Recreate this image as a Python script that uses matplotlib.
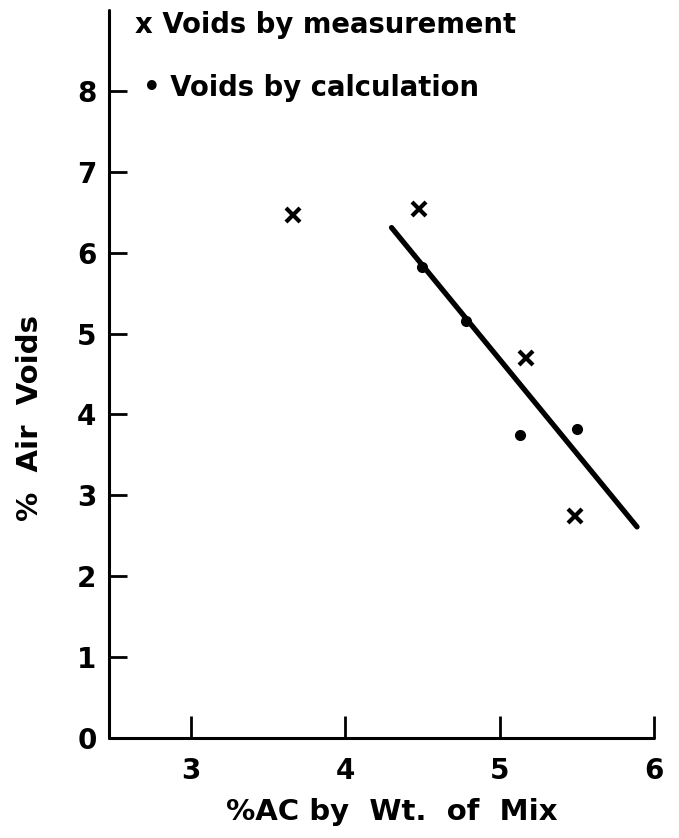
import matplotlib
matplotlib.use("Agg")
import matplotlib.pyplot as plt

# Data
meas_x = [3.66, 4.48, 5.17, 5.49]
meas_y = [6.46, 6.54, 4.70, 2.74]
calc_x = [4.50, 4.78, 5.13, 5.50]
calc_y = [5.82, 5.15, 3.75, 3.82]
fit_x = [4.30, 5.89]
fit_y = [6.31, 2.61]
x_ticks = [3, 4, 5, 6]
y_ticks = [0, 1, 2, 3, 4, 5, 6, 7, 8]

plt.rcParams['font.family'] = ['DejaVu Sans']
plt.rcParams['font.weight'] = 'bold'

fig = plt.figure(figsize=(6.79, 8.38), dpi=100)
ax = fig.add_axes([109/679, 100/838, (654-109)/679, (738-10)/838])

ax.plot(fit_x, fit_y, color='black', lw=3.8, solid_capstyle='round')
ax.plot(meas_x, meas_y, linestyle='none', marker='x', color='black',
        markersize=10.5, markeredgewidth=3)
ax.plot(calc_x, calc_y, linestyle='none', marker='o', color='black',
        markersize=7)

ax.set_xlim(2.47, 6.0)
ax.set_ylim(0, 9.0)
for s in ['top', 'right']:
    ax.spines[s].set_visible(False)
for s in ['left', 'bottom']:
    ax.spines[s].set_linewidth(2.2)
    ax.spines[s].set_capstyle('round')

ax.set_xticks(x_ticks)
ax.set_yticks(y_ticks)
ax.set_xticklabels([str(t) for t in x_ticks], fontsize=20, fontweight='bold')
ax.set_yticklabels([str(t) for t in y_ticks], fontsize=20, fontweight='bold')
ax.tick_params(axis='x', direction='in', length=16, width=2, pad=14)
ax.tick_params(axis='y', direction='in', length=13, width=2, pad=9)

fig.text(392/679, 1 - 812/838, '%AC by  Wt.  of  Mix', ha='center', va='center',
         fontsize=21, fontweight='bold')
fig.text(30/679, 1 - 418/838, '%  Air  Voids', ha='center', va='center',
         rotation=90, fontsize=21, fontweight='bold')

fig.text(135/679, 1 - 25/838, 'x Voids by measurement', ha='left', va='center',
         fontsize=19.8, fontweight='bold')
fig.text(143/679, 1 - 88/838, '\u2022 Voids by calculation', ha='left', va='center',
         fontsize=19.8, fontweight='bold')

fig.savefig('out.png', dpi=100)
